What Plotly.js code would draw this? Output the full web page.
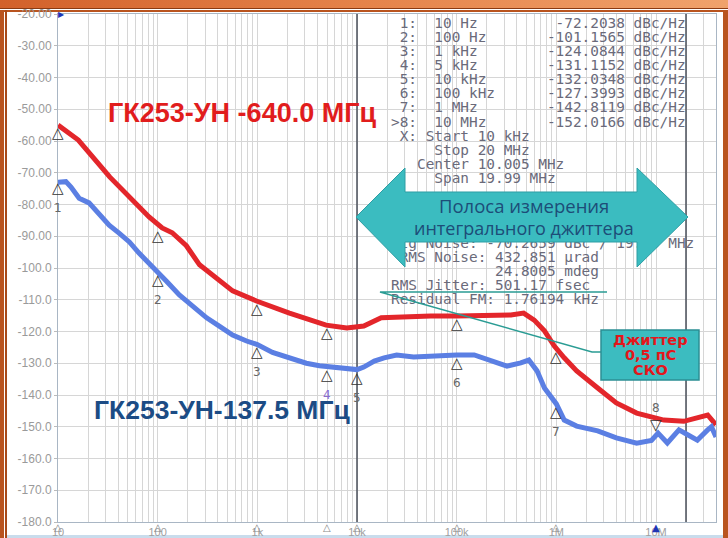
<!DOCTYPE html>
<html><head><meta charset="utf-8">
<script src="https://cdn.plot.ly/plotly-3.0.1.min.js"></script>
<style>
html,body{margin:0;padding:0;background:#fff;}
#wrap{position:relative;width:728px;height:538px;overflow:hidden;background:#fff;}
#chart{position:absolute;left:0;top:0;width:728px;height:538px;}
.f{position:absolute;}
</style></head><body>
<div id="wrap">
<div class="f" style="left:0;top:0;width:728px;height:8px;background:linear-gradient(90deg,#d2612b,#e5834a 50%,#f0a26c);"></div>
<div class="f" style="left:0;top:8px;width:728px;height:1px;background:#8a3a12;"></div>
<div class="f" style="left:0;top:10px;width:728px;height:2px;background:#b9541f;"></div>
<div class="f" style="left:0;top:10px;width:4px;height:528px;background:#b9541f;"></div>
<div class="f" style="left:5px;top:10px;width:2px;height:528px;background:#a84a1a;"></div>
<div class="f" style="left:723px;top:10px;width:5px;height:528px;background:#b9541f;"></div>
<div class="f" style="left:7px;top:535px;width:716px;height:3px;background:#c9dcec;"></div>
<div id="chart"></div>
</div>
<script>
// ---------- data ----------
const FREQ_RED = [10,16,33,52,82,111,140,194,263,565,980,2100,4900,7900,11700,17500,25000,55000,100000,220000,350000,470000,600000,760000,955000,1200000,1600000,2600000,4000000,6400000,12000000,19000000,28000000,33000000,40000000];
const DBC_RED = [-55.0,-59.7,-71.3,-77.6,-83.9,-87.4,-88.9,-93.0,-99.0,-107.2,-110.4,-114.2,-118.0,-118.9,-118.3,-115.7,-115.4,-115.1,-115.1,-115.1,-114.8,-114.2,-116.4,-119.8,-124.6,-128.3,-132.4,-137.8,-142.5,-145.7,-147.9,-148.3,-146.9,-146.3,-149.4];

const FREQ_BLUE = [10,12,13.5,16.3,20.5,25.8,32.6,41,52,65,82,100,122,165,222,310,415,565,780,1000,1420,2100,3100,4200,5700,7900,10000,11700,14900,18700,25000,37000,55000,100000,150000,220000,320000,440000,530000,640000,760000,1000000,1200000,1600000,2600000,4000000,6400000,9000000,10500000,13000000,17000000,21000000,26000000,33000000,36000000,40000000];
const DBC_BLUE = [-73.0,-72.8,-74.5,-78.0,-79.5,-82.7,-86.5,-89.0,-91.8,-95.3,-98.4,-101.2,-104.1,-108.5,-112.0,-115.7,-118.3,-121.1,-123.0,-124.1,-126.6,-128.5,-130.0,-130.8,-131.3,-131.8,-132.0,-131.2,-129.3,-128.3,-127.4,-128.0,-127.7,-127.4,-127.4,-129.3,-130.9,-129.9,-129.0,-132.4,-137.8,-142.8,-147.9,-149.8,-151.3,-153.5,-155.2,-154.3,-152.0,-155.1,-151.0,-152.6,-154.2,-151.0,-150.0,-153.2];

const MARKER_FREQ = [10,100,1000,5000,10000,100000,1000000,10000000];
const MARKER_NUM = ['1:','2:','3:','4:','5:','6:','7:','>8:'];
const MARKER_FREQ_TEXT = ['10 Hz','100 Hz','1 kHz','5 kHz','10 kHz','100 kHz','1 MHz','10 MHz'];
const MARKER_BLUE = [-72.2038,-101.1565,-124.0844,-131.1152,-132.0348,-127.3993,-142.8119,-152.0166];
const MARKER_RED = [-55.0,-87.5,-110.5,-117.8,null,-115.0,-125.5,null];

const INTEG_RANGE = [10000,20000000];
const INFO_LINES = [' X: Start 10 kHz','     Stop 20 MHz','   Center 10.005 MHz','     Span 19.99 MHz'];
const RESULT_LINES = ['Itg Noise: -70.2659 dBc / 19.99 MHz',' RMS Noise: 432.851 \u00b5rad','            24.8005 mdeg','RMS Jitter: 501.17 fsec','Residual FM: 1.76194 kHz'];

const X_MIN = 10, X_MAX = 4e7, Y_MIN = -180, Y_MAX = -20;
const X_TICK_VALS = [10,100,1e3,1e4,1e5,1e6,1e7];
const X_TICK_TEXT = ['10','100','1k','10k','100k','1M','10M'];
const Y_TICKS = [-20,-30,-40,-50,-60,-70,-80,-90,-100,-110,-120,-130,-140,-150,-160,-170,-180];

const TITLE_RED = 'ГК253-УН -640.0 МГц';
const TITLE_BLUE = 'ГК253-УН-137.5 МГц';
const ARROW_TEXT = ['Полоса измерения','интегрального джиттера'];
const BOX_TEXT = ['Джиттер','0,5 пС','СКО'];

// ---------- geometry helpers ----------
const L=58, R=716, T=14, B=522;
const LX0=Math.log10(X_MIN), LX1=Math.log10(X_MAX);
const px2f = px => Math.pow(10, LX0 + (px-L)/(R-L)*(LX1-LX0));
const py2db = py => Y_MAX - (py-T)/(B-T)*(Y_MAX-Y_MIN);
const pxp = px => (px-L)/(R-L);
const pyp = py => (B-py)/(B-T);
const P = (x,y) => pxp(x).toFixed(5)+','+pyp(y).toFixed(5);
const nb = s => s.replace(/ /g,'\u00a0');

// grid values (1..9 per decade)
const gridVals=[], gridText=[];
for(let d=1; d<=7; d++){ for(let m=1;m<=9;m++){ const v=m*Math.pow(10,d); if(v<=X_MAX){ gridVals.push(v); const i=X_TICK_VALS.indexOf(v); gridText.push(i>=0?X_TICK_TEXT[i]:''); } } }

// table lines
const tableLines = [], tableY = [];
for(let i=0;i<MARKER_NUM.length;i++){
  tableLines.push(MARKER_NUM[i].padStart(3)+'  '+MARKER_FREQ_TEXT[i].padEnd(12)+MARKER_BLUE[i].toFixed(4).padStart(10)+' dBc/Hz');
}
INFO_LINES.forEach(s=>tableLines.push(s));
tableLines.forEach((s,i)=>tableY.push(24+14.15*i));
RESULT_LINES.forEach((s,i)=>{tableLines.push(s); tableY.push(244+14.2*i);});

const traces = [
  {x:INTEG_RANGE.flatMap(v=>[v,v,null]), y:[Y_MIN,Y_MAX,null,Y_MIN,Y_MAX,null], mode:'lines', line:{color:'#4a4f5a',width:1.5}, hoverinfo:'skip'},
  {x:tableLines.map(()=>px2f(391)), y:tableY.map(py2db), mode:'text', text:tableLines.map(nb), textposition:'middle right', textfont:{family:'DejaVu Sans Mono, monospace', size:14.4, color:'#6a6a7a'}, cliponaxis:false, hoverinfo:'skip'},
  {x:FREQ_RED, y:DBC_RED, mode:'lines', line:{color:'#e3262b', width:5}, hoverinfo:'skip'},
  {x:FREQ_BLUE, y:DBC_BLUE, mode:'lines', line:{color:'#5b7fe3', width:5}, hoverinfo:'skip'}
];

const ann = [];
const lg = v => Math.log10(v);
const base = {showarrow:false, xanchor:'center'};
MARKER_FREQ.forEach((f,i)=>{
  if(i<7){
    ann.push({...base, x:lg(f), y:MARKER_BLUE[i], text:'△', yanchor:'top', yshift:3, font:{family:'DejaVu Sans', size:15, color:'#333'}});
    ann.push({...base, x:lg(f), y:MARKER_BLUE[i], text:String(i+1), yanchor:'middle', yshift:-28, font:{family:'DejaVu Sans', size:12, color: i===3?'#8a6ccf':'#666'}});
  } else {
    ann.push({...base, x:lg(f), y:MARKER_BLUE[i], text:'▽', yanchor:'bottom', yshift:-3, font:{family:'DejaVu Sans', size:15, color:'#333'}});
    ann.push({...base, x:lg(f), y:MARKER_BLUE[i], text:String(i+1), yanchor:'middle', yshift:25, font:{family:'DejaVu Sans', size:12, color:'#666'}});
  }
  if(MARKER_RED[i]!==null){
    ann.push({...base, x:lg(f), y:MARKER_RED[i], text:'△', yanchor:'top', yshift:3, font:{family:'DejaVu Sans', size:15, color:'#333'}});
  }
  ann.push({...base, x:lg(f), y:Y_MIN, text: i<7?'△':'▲', yanchor:'top', yshift:2, font:{family:'DejaVu Sans', size:10, color: i<7?'#888':'#1f35b5'}});
});
ann.push({showarrow:false, x:lg(X_MIN), y:Y_MAX, text:'▶', xanchor:'left', yanchor:'middle', xshift:-2, font:{family:'DejaVu Sans', size:8, color:'#1f35b5'}});

const pa = (px,py,text,font) => ({xref:'paper', yref:'paper', x:pxp(px), y:pyp(py), xanchor:'center', yanchor:'middle', showarrow:false, text, font});
ann.push(pa(242,113,'<b>'+TITLE_RED+'</b>',{family:'Liberation Sans, Arial', size:27, color:'#e11d1d'}));
ann.push(pa(222,410,'<b>'+TITLE_BLUE+'</b>',{family:'Liberation Sans, Arial', size:26.5, color:'#1c4c85'}));
ann.push(pa(524,205,ARROW_TEXT[0],{family:'Open Sans', size:18.5, color:'#1d4d78'}));
ann.push(pa(524,228,ARROW_TEXT[1],{family:'Open Sans', size:18, color:'#1d4d78'}));
BOX_TEXT.forEach((t,i)=>ann.push(pa(650,340+15*i,'<b>'+t+'</b>',{family:'DejaVu Sans', size:14.5, color:'#e3161b'})));

const shapes = [
  {type:'path', xref:'paper', yref:'paper', layer:'above',
   path:'M'+P(356,217)+' L'+P(405,168)+' L'+P(405,192)+' L'+P(637,192)+' L'+P(637,168)+' L'+P(688,217)+' L'+P(637,267)+' L'+P(637,242)+' L'+P(405,242)+' L'+P(405,267)+' Z',
   fillcolor:'#3bbcc0', line:{color:'#2e9ea4', width:1}},
  {type:'path', xref:'paper', yref:'paper', layer:'above',
   path:'M'+P(607,292)+' L'+P(380,292)+' L'+P(592,352)+' L'+P(601,352),
   line:{color:'#2a9c94', width:1.5}},
  {type:'rect', xref:'paper', yref:'paper', layer:'above', x0:pxp(601), x1:pxp(699), y0:pyp(380), y1:pyp(330),
   fillcolor:'#3cbcc0', line:{color:'#2b8f94', width:1.5}}
];

const layout = {
  width:728, height:538, margin:{l:58,r:12,t:14,b:16,pad:0},
  paper_bgcolor:'rgba(0,0,0,0)', plot_bgcolor:'#ffffff', showlegend:false,
  font:{family:'Liberation Sans, Arial', color:'#999'},
  xaxis:{type:'log', range:[LX0,LX1], tickmode:'array', tickvals:gridVals, ticktext:gridText, showgrid:true, gridcolor:'#d6d6d6', gridwidth:1,
         showline:true, linecolor:'#a9b6c4', mirror:true, ticks:'', tickfont:{size:11,color:'#a0a0a0'}, zeroline:false, fixedrange:true},
  yaxis:{range:[Y_MIN,Y_MAX], tickmode:'array', tickvals:Y_TICKS, ticktext:Y_TICKS.map(v=> v>-100 ? v.toFixed(2) : v.toFixed(1)),
         showgrid:true, gridcolor:'#d6d6d6', showline:true, linecolor:'#a9b6c4', mirror:true, ticks:'outside', ticklen:3, tickcolor:'#bbb',
         tickfont:{size:12,color:'#9a9a9a'}, zeroline:false, fixedrange:true},
  annotations:ann, shapes:shapes
};
Plotly.newPlot('chart', traces, layout, {staticPlot:true, displayModeBar:false});
</script>
</body></html>
